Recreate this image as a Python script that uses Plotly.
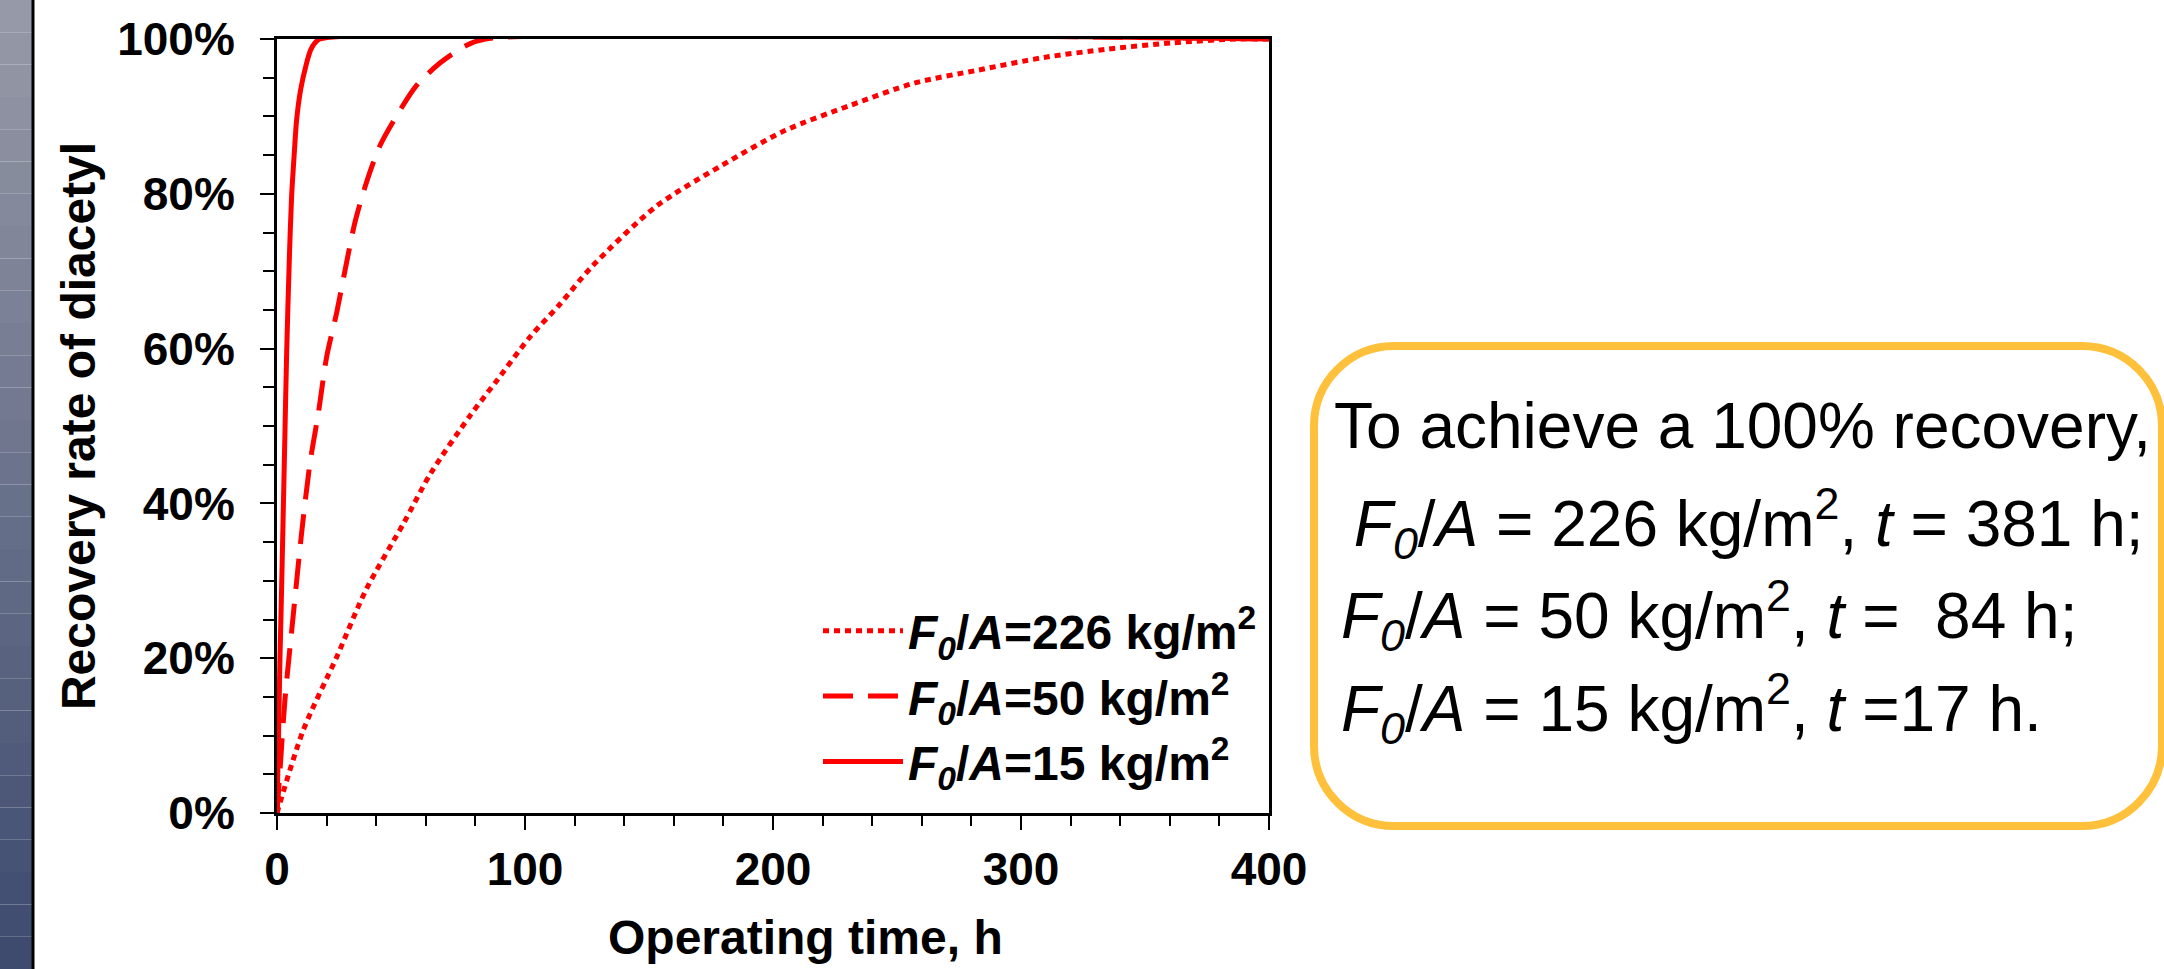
import plotly.graph_objects as go

# ---- data ----
t_226 = [0, 10.6, 24, 36, 51, 62, 78, 88, 102, 114, 127, 153, 179, 205, 231, 257, 283, 309, 335, 361, 387, 400]
r_226 = [0, 10.7, 20.1, 28.9, 37.4, 43.9, 51.4, 55.6, 61.5, 65.7, 70.6, 78.4, 83.6, 88.2, 91.4, 94.3, 96.0, 97.6, 98.7, 99.5, 100, 100]

t_50 = [0, 1.2, 3.2, 6.6, 9.9, 13.3, 16.7, 20.0, 24.1, 28.1, 31.5, 36.2, 41.5, 48.3, 56.3, 65.7, 76.5, 84, 400]
r_50 = [0, 5.5, 14.6, 25.7, 36.1, 45.2, 51.7, 58.9, 64.7, 71.2, 76.4, 81.6, 86.2, 90.1, 94.0, 96.9, 99.2, 100, 100]

t_15 = [0, 0.5, 1.2, 1.9, 3.2, 3.9, 5.0, 5.9, 6.9, 7.9, 9.5, 11.7, 13.6, 15.3, 17.3, 400]
r_15 = [0, 8, 20, 29.6, 49.1, 59.5, 71.9, 79.7, 84.9, 89.5, 93.4, 96.6, 98.6, 99.5, 100, 100]

legend_names = [
    "<i>F</i><sub><i>0</i></sub>/<i>A</i>=226 kg/m<sup>2</sup>",
    "<i>F</i><sub><i>0</i></sub>/<i>A</i>=50 kg/m<sup>2</sup>",
    "<i>F</i><sub><i>0</i></sub>/<i>A</i>=15 kg/m<sup>2</sup>",
]
note_lines = [
    "To achieve a 100% recovery,",
    " <i>F</i><sub><i>0</i></sub>/<i>A</i> = 226 kg/m<sup>2</sup>, <i>t</i> = 381 h;",
    "<i>F</i><sub><i>0</i></sub>/<i>A</i> = 50 kg/m<sup>2</sup>, <i>t</i> =  84 h;",
    "<i>F</i><sub><i>0</i></sub>/<i>A</i> = 15 kg/m<sup>2</sup>, <i>t</i> =17 h.",
]
x_title = "Operating time, h"
y_title = "Recovery rate of diacetyl"

W, H = 2164, 969
PL, PR, PT, PB = 277, 1269, 39, 813


def px(x):
    return (x - PL) / (PR - PL)


def py(y):
    return (PB - y) / (PB - PT)


FONT = "Arial, Liberation Sans, sans-serif"
RED = "#FF0000"

fig = go.Figure()
fig.add_trace(go.Scatter(x=t_226, y=r_226, mode="lines", name=legend_names[0],
                         line=dict(color=RED, width=5, dash="6px,5px", shape="spline", smoothing=0.8)))
fig.add_trace(go.Scatter(x=t_50, y=r_50, mode="lines", name=legend_names[1],
                         line=dict(color=RED, width=5, dash="30px,15px", shape="spline", smoothing=0.8)))
fig.add_trace(go.Scatter(x=t_15, y=r_15, mode="lines", name=legend_names[2],
                         line=dict(color=RED, width=5, shape="spline", smoothing=0.8)))

shapes = []
# left gradient band
n = 30
c0 = (150, 153, 167)
c1 = (62, 75, 111)
for i in range(n):
    f = i / (n - 1)
    col = "rgb(%d,%d,%d)" % tuple(round(a + (b - a) * f) for a, b in zip(c0, c1))
    y0 = H * i / n
    y1 = H * (i + 1) / n
    shapes.append(dict(type="rect", xref="paper", yref="paper", x0=px(0), x1=px(32),
                       y0=py(y1), y1=py(y0), fillcolor=col, line=dict(width=0), layer="below"))
shapes.append(dict(type="line", xref="paper", yref="paper", x0=px(33), x1=px(33),
                   y0=py(H), y1=py(0), line=dict(color="black", width=3)))

# rounded note box
L, R, T, B, r = 1314, 2162, 346, 826, 80
k = 0.5523 * r


def P(x, y):
    return "%.5f,%.5f" % (px(x), py(y))


path = ("M" + P(L + r, T) + " L" + P(R - r, T) +
        " C" + P(R - r + k, T) + " " + P(R, T + r - k) + " " + P(R, T + r) +
        " L" + P(R, B - r) +
        " C" + P(R, B - r + k) + " " + P(R - r + k, B) + " " + P(R - r, B) +
        " L" + P(L + r, B) +
        " C" + P(L + r - k, B) + " " + P(L, B - r + k) + " " + P(L, B - r) +
        " L" + P(L, T + r) +
        " C" + P(L, T + r - k) + " " + P(L + r - k, T) + " " + P(L + r, T) + " Z")
shapes.append(dict(type="path", xref="paper", yref="paper", path=path,
                   line=dict(color="#FFC13B", width=8), fillcolor="rgba(0,0,0,0)"))

annotations = []
note_x = [1332, 1334, 1339, 1339]
note_base = [447, 544, 636, 729]
for txt, xx, yb in zip(note_lines, note_x, note_base):
    annotations.append(dict(text=txt, xref="paper", yref="paper", x=px(xx), y=py(yb - 21),
                            xanchor="left", yanchor="middle", showarrow=False,
                            font=dict(family=FONT, size=64, color="black")))
# x-axis title (placed as in the reference, slightly right of the axis centre)
annotations.append(dict(text=x_title, xref="paper", yref="paper", x=px(805), y=py(937),
                        xanchor="center", yanchor="middle", showarrow=False,
                        font=dict(family=FONT, size=48, color="black", weight="bold")))

fig.update_layout(
    width=W, height=H,
    margin=dict(l=PL, r=W - PR, t=PT, b=H - PB),
    paper_bgcolor="white", plot_bgcolor="white",
    font=dict(family=FONT, color="black"),
    shapes=shapes, annotations=annotations,
    legend=dict(x=px(818), y=py(593), xanchor="left", yanchor="top",
                bgcolor="rgba(0,0,0,0)", itemwidth=80,
                font=dict(family=FONT, size=48, color="black", weight="bold")),
    xaxis=dict(range=[0, 400], dtick=100, tick0=0, showgrid=False, zeroline=False,
               showline=True, linecolor="black", linewidth=3, mirror=True,
               ticks="outside", ticklen=14, tickwidth=2, tickcolor="black",
               minor=dict(dtick=20, ticks="outside", ticklen=10, tickwidth=2, tickcolor="black"),
               tickfont=dict(family=FONT, size=46, color="black", weight="bold")),
    yaxis=dict(range=[0, 100], dtick=20, tick0=0, ticksuffix="%", showgrid=False, zeroline=False,
               showline=True, linecolor="black", linewidth=3, mirror=True,
               ticks="outside", ticklen=14, tickwidth=2, tickcolor="black", ticklabelstandoff=16,
               minor=dict(dtick=5, ticks="outside", ticklen=11, tickwidth=2, tickcolor="black"),
               tickfont=dict(family=FONT, size=46, color="black", weight="bold"),
               title=dict(text=y_title, standoff=7,
                          font=dict(family=FONT, size=48, color="black", weight="bold"))),
)

fig.write_html("out.html", config={"displayModeBar": False},
               post_script="document.body.style.margin='0';document.body.style.overflow='hidden';")
